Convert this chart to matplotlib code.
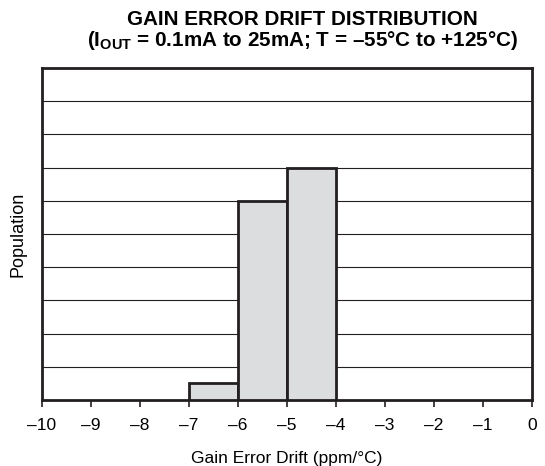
import matplotlib
matplotlib.use("Agg")
import matplotlib.pyplot as plt

# histogram bins (ppm/°C) and population counts
bin_left = [-7, -6, -5]
counts = [0.5, 6, 7]
bin_width = 1
x_ticks = list(range(-10, 1))
x_labels = ["–10", "–9", "–8", "–7", "–6", "–5", "–4", "–3", "–2", "–1", "0"]

plt.rcParams["font.family"] = ["Liberation Sans", "DejaVu Sans"]
plt.rcParams["mathtext.fontset"] = "custom"
plt.rcParams["mathtext.bf"] = "Liberation Sans:bold"
plt.rcParams["mathtext.rm"] = "Liberation Sans"

fig = plt.figure(figsize=(5.45, 4.66), dpi=100)
ax = fig.add_axes([0.077, 0.1416, 0.899, 0.7124])

ax.bar(bin_left, counts, width=bin_width, align="edge",
       color="#dcdddf", edgecolor="#231f20", linewidth=2, zorder=3)

ax.set_xlim(-10, 0)
ax.set_ylim(0, 10)
ax.set_yticks(range(1, 10))
ax.yaxis.grid(True, color="#231f20", linewidth=0.8, zorder=1)
ax.tick_params(axis="y", left=False, labelleft=False)
ax.set_xticks(x_ticks)
ax.set_xticklabels(x_labels, fontsize=12.5)
ax.tick_params(axis="x", direction="out", length=5, width=1.2, color="#231f20", pad=8)
for s in ax.spines.values():
    s.set_linewidth(2)
    s.set_color("#231f20")

ax.set_xlabel("Gain Error Drift (ppm/°C)", fontsize=12.5, labelpad=13)
ax.set_ylabel("Population", fontsize=13, labelpad=11)

title = ("GAIN ERROR DRIFT DISTRIBUTION\n"
         r"(I$_{\mathbf{OUT}}$ = 0.1mA to 25mA; T = –55°C to +125°C)")
fig.text(0.555, 0.978, title, ha="center", va="top", fontsize=14.9,
         fontweight="bold", linespacing=0.96)

fig.savefig("out.png", dpi=100)
